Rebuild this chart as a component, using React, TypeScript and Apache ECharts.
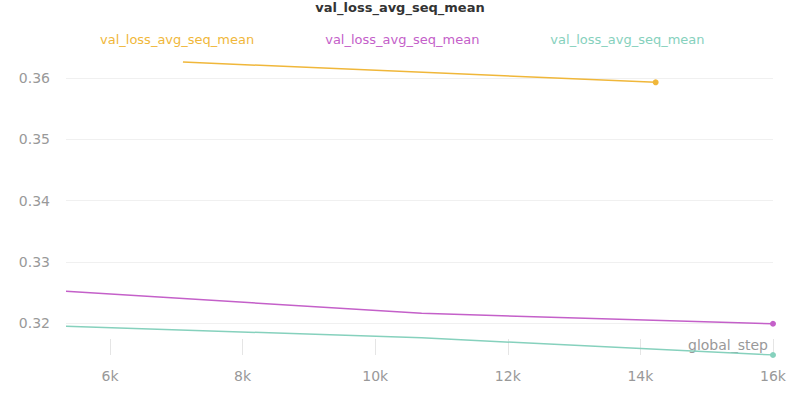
import { useEffect, useRef } from 'react';
import * as echarts from 'echarts';

const seriesName = 'val_loss_avg_seq_mean';
const orangeData = [[7100, 0.3626], [14230, 0.3593]];
const purpleData = [[5336, 0.3252], [10700, 0.3216], [16000, 0.3199]];
const greenData = [[5336, 0.3195], [10700, 0.3176], [16000, 0.3148]];
const xTicks = [6000, 8000, 10000, 12000, 14000, 16000];
const yTicks = [0.32, 0.33, 0.34, 0.35, 0.36];
const colors = ['#f0b73a', '#c460c9', '#86d1bd'];

export default function App() {
  const chartRef = useRef<HTMLDivElement>(null);

  useEffect(() => {
    if (!chartRef.current) return;
    document.body.style.margin = '0';
    const chart = echarts.init(chartRef.current, undefined, { renderer: 'svg' });

    const mk = (name: string, data: number[][], color: string) => ({
      name,
      type: 'line',
      data,
      showSymbol: true,
      symbol: 'circle',
      symbolSize: (_v: any, p: any) => (p.dataIndex === data.length - 1 ? 6 : 0),
      lineStyle: { color, width: 1.5 },
      itemStyle: { color },
    });

    chart.setOption({
      animation: false,
      textStyle: { fontFamily: 'DejaVu Sans' },
      title: {
        text: 'val_loss_avg_seq_mean',
        left: 'center',
        top: -4,
        textStyle: { fontSize: 13, fontWeight: 'bold', color: '#333' },
      },
      legend: {
        top: 27,
        left: 90,
        itemGap: 66,
        icon: 'none',
        itemWidth: 0,
        textStyle: { fontSize: 13 },
        data: [
          { name: 'a', textStyle: { color: colors[0] } },
          { name: 'b', textStyle: { color: colors[1] } },
          { name: 'c', textStyle: { color: colors[2] } },
        ],
        formatter: () => seriesName,
      },
      grid: { left: 66, right: 27, top: 50, bottom: 45 },
      xAxis: {
        type: 'value',
        min: 5336,
        max: 16000,
        name: 'global_step',
        nameLocation: 'end',
        nameGap: -85,
        nameTextStyle: { color: '#999', fontSize: 14, verticalAlign: 'bottom', padding: [0, 0, 3, 0] },
        axisLine: { show: false },
        axisTick: { show: true, customValues: xTicks, length: 16, inside: true, lineStyle: { color: '#e5e5e5' } },
        axisLabel: { customValues: xTicks, color: '#999', fontSize: 14, margin: 14, formatter: (v: number) => v / 1000 + 'k' },
        splitLine: { show: false },
      },
      yAxis: {
        type: 'value',
        min: 0.3148,
        max: 0.36457,
        axisLine: { show: false },
        axisTick: { show: false, customValues: yTicks },
        axisLabel: { customValues: yTicks, color: '#999', fontSize: 14, margin: 16, formatter: (v: number) => v.toFixed(2) },
        splitLine: { show: true, lineStyle: { color: '#f0f0f0' } },
      },
      series: [
        mk('a', orangeData, colors[0]),
        mk('b', purpleData, colors[1]),
        mk('c', greenData, colors[2]),
      ],
    });

    return () => chart.dispose();
  }, []);

  return <div ref={chartRef} style={{ width: 800, height: 400 }} />;
}
